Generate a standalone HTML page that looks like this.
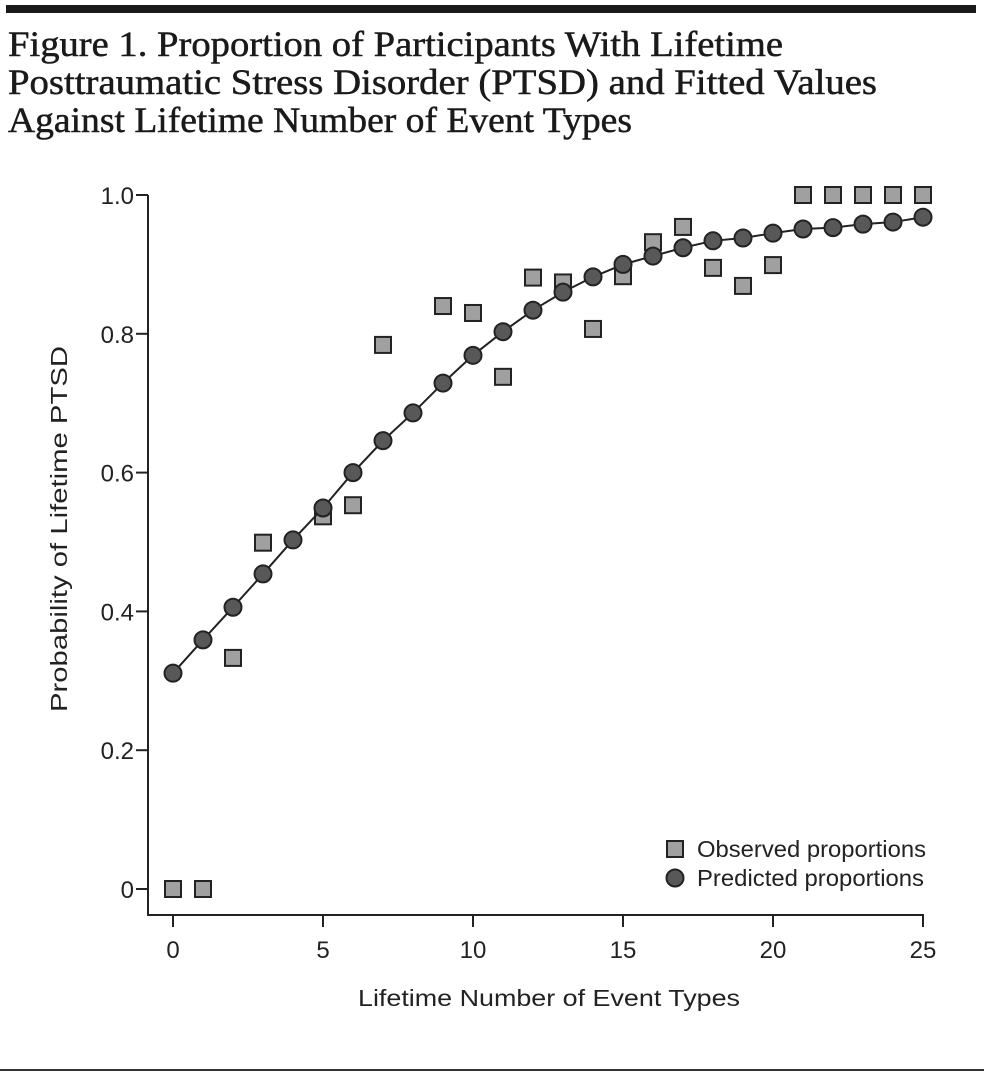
<!DOCTYPE html>
<html><head><meta charset="utf-8"><style>
body{margin:0;background:#fff;width:984px;height:1075px;overflow:hidden}
svg{display:block}
.t{font-family:"Liberation Serif",serif;font-size:36px;fill:#1a1a1a;stroke:#1a1a1a;stroke-width:0.5}
.s{font-family:"Liberation Sans",sans-serif;font-size:23px;fill:#222}
.k{font-family:"Liberation Sans",sans-serif;font-size:24px;fill:#222}
</style></head><body>
<svg id="c" width="984" height="1075">
<rect x="6" y="5" width="970" height="8" fill="#1a1a1a"/>
<text class="t" x="8" y="56" textLength="775" lengthAdjust="spacingAndGlyphs">Figure 1. Proportion of Participants With Lifetime</text>
<text class="t" x="8" y="94" textLength="869" lengthAdjust="spacingAndGlyphs">Posttraumatic Stress Disorder (PTSD) and Fitted Values</text>
<text class="t" x="8" y="132" textLength="624" lengthAdjust="spacingAndGlyphs">Against Lifetime Number of Event Types</text>
<rect x="0" y="1069" width="984" height="2" fill="#333"/>
<g id="axes"></g><g id="marks"></g>
<text class="s" x="358" y="1006" textLength="382" lengthAdjust="spacingAndGlyphs">Lifetime Number of Event Types</text>
<text class="s" transform="translate(67,712) rotate(-90)" textLength="366" lengthAdjust="spacingAndGlyphs">Probability of Lifetime PTSD</text>
<g>
<rect x="667" y="841" width="16" height="16" fill="#a0a0a0" stroke="#222" stroke-width="2"/>
<text class="s" x="697" y="857" textLength="229" lengthAdjust="spacingAndGlyphs">Observed proportions</text>
<circle cx="675" cy="878" r="8.5" fill="#585858" stroke="#222" stroke-width="2"/>
<text class="s" x="697" y="886" textLength="227" lengthAdjust="spacingAndGlyphs">Predicted proportions</text>
</g>
</svg>
<script>
const xVals=[0,1,2,3,4,5,6,7,8,9,10,11,12,13,14,15,16,17,18,19,20,21,22,23,24,25];
const observedX=[0,1,2,3,5,6,7,9,10,11,12,13,14,15,16,17,18,19,20,21,22,23,24,25];
const observed=[0,0,0.333,0.499,0.537,0.553,0.784,0.840,0.830,0.738,0.881,0.874,0.807,0.883,0.932,0.954,0.895,0.869,0.899,1,1,1,1,1];
const predicted=[0.311,0.359,0.406,0.454,0.503,0.549,0.600,0.646,0.686,0.729,0.769,0.803,0.834,0.860,0.882,0.900,0.912,0.924,0.934,0.938,0.945,0.951,0.953,0.958,0.961,0.968];
const xTicks=[0,5,10,15,20,25];
const yTicks=[0,0.2,0.4,0.6,0.8,1.0];
const yTickLabels=["0","0.2","0.4","0.6","0.8","1.0"];
const NS="http://www.w3.org/2000/svg";
const X=v=>173+v*30, Y=v=>889-v*694;
function mk(t,a,p){const e=document.createElementNS(NS,t);for(const k in a)e.setAttribute(k,a[k]);p.appendChild(e);return e;}
const ax=document.getElementById('axes'), mg=document.getElementById('marks');
let l=mk('line',{x1:148,y1:Y(1),x2:148,y2:916,stroke:'#222','stroke-width':2},ax);


l=mk('line',{x1:147,y1:915,x2:X(25)+1,y2:915,stroke:'#222','stroke-width':2},ax);


yTicks.forEach((v,i)=>{
 const t=mk('line',{x1:136,y1:Y(v),x2:148,y2:Y(v),stroke:'#222','stroke-width':2},ax);
 
 
 const tx=mk('text',{x:134,y:Y(v)+9,'text-anchor':'end',class:'k'},ax);tx.textContent=yTickLabels[i];
 
 
});
xTicks.forEach(v=>{
 const t=mk('line',{x1:X(v),y1:915,x2:X(v),y2:927,stroke:'#222','stroke-width':2},ax);
 
 
 const tx=mk('text',{x:X(v),y:958,'text-anchor':'middle',class:'k'},ax);tx.textContent=String(v);
 
 
});
observedX.forEach((x,i)=>{
 const r=mk('rect',{x:X(x)-8,y:Y(observed[i])-8,width:16,height:16,fill:'#a0a0a0',stroke:'#222','stroke-width':2},mg);
 
 
});
const pl=mk('polyline',{points:xVals.map((x,i)=>X(x)+','+Y(predicted[i])).join(' '),fill:'none',stroke:'#222','stroke-width':2},mg);


xVals.forEach((x,i)=>{
 const c=mk('circle',{cx:X(x),cy:Y(predicted[i]),r:8.5,fill:'#585858',stroke:'#222','stroke-width':2},mg);
 
 
});
</script>
</body></html>
